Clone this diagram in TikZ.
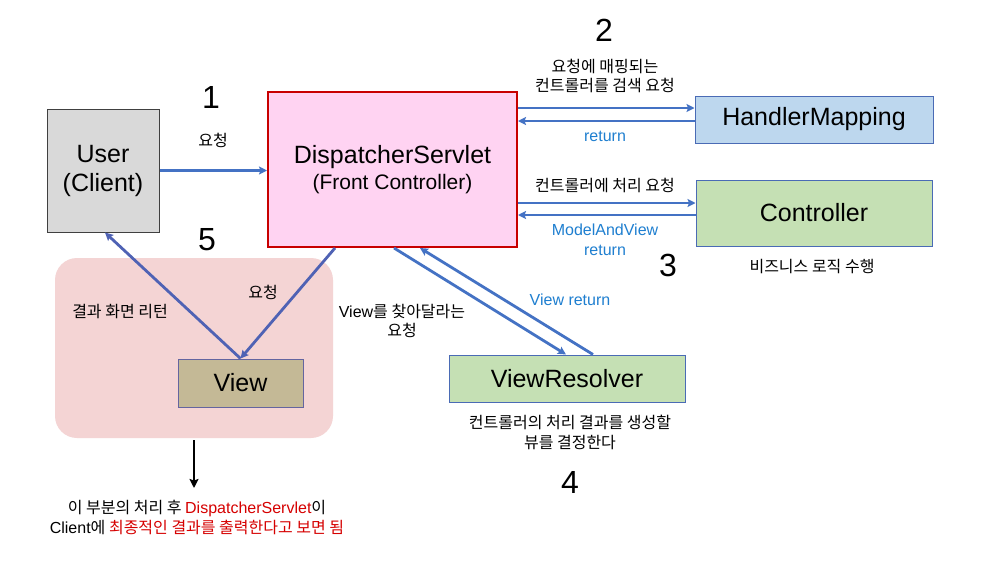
\documentclass[tikz,border=0pt]{standalone}
\usepackage{fontspec}
\setmainfont{Liberation Sans}
\newfontfamily\kr{Noto Sans CJK KR}
\usetikzlibrary{arrows.meta,calc}
\definecolor{arrblue}{HTML}{4472C4}
\definecolor{arrviol}{HTML}{4F62B4}
\definecolor{lblue}{HTML}{1F7FD0}
\definecolor{dred}{HTML}{D60000}
\definecolor{userfill}{HTML}{D9D9D9}
\definecolor{dsfill}{HTML}{FFD3F2}
\definecolor{dsborder}{HTML}{C80000}
\definecolor{hmfill}{HTML}{BDD7EE}
\definecolor{gfill}{HTML}{C5E0B4}
\definecolor{bborder}{HTML}{4A6BB5}
\definecolor{regfill}{HTML}{F4D4D4}
\definecolor{viewfill}{HTML}{C4B996}
\definecolor{viewborder}{HTML}{6465A0}
\newcommand{\K}[1]{{\kr #1}}
\newcommand{\bigF}{\fontsize{25}{29}\selectfont}
\newcommand{\midF}{\fontsize{21}{25}\selectfont}
\newcommand{\smlF}{\fontsize{16}{19.5}\selectfont}
\newcommand{\numF}{\fontsize{32}{36}\selectfont}
\tikzset{
  box/.style={draw, line width=1pt, inner sep=0pt, align=center},
  arr/.style={draw=arrblue, line width=2.8pt, -{Stealth[length=8pt,width=8pt,inset=1.5pt]}},
  varr/.style={draw=arrviol, line width=2.8pt, -{Stealth[length=8pt,width=8pt,inset=1.5pt]}},
  karr/.style={draw=black, line width=2.6pt, -{Stealth[length=9pt,width=9pt,inset=1.5pt]}},
  lbl/.style={inner sep=0pt, align=center, font=\smlF},
  blbl/.style={lbl, text=lblue},
  numlbl/.style={inner sep=0pt, font=\numF},
}
\begin{document}
\begin{tikzpicture}[x=1pt,y=-1pt]
\useasboundingbox[fill=white] (0,0) rectangle (982,568);
% region
\node[fill=regfill, rounded corners=22pt, minimum width=278pt, minimum height=180pt, inner sep=0pt] (region) at (194,348) {};
% boxes
\node[box, draw=black!75, fill=userfill, minimum width=112pt, minimum height=123pt, font=\bigF] (user) at (103,170.5) {User\\(Client)};
\node[box, draw=dsborder, line width=2pt, fill=dsfill, minimum width=249pt, minimum height=155pt] (ds) at (392.5,169.5) {};
\node[inner sep=0pt, font=\bigF] (dstitle) at (392.5,157) {DispatcherServlet};
\node[inner sep=0pt, font=\midF] (dssub) at (392.5,184) {(Front Controller)};
\node[box, draw=bborder, fill=hmfill, minimum width=238pt, minimum height=47pt, font=\bigF] (hm) at (814,119.5) {HandlerMapping};
\node[box, draw=bborder, fill=gfill, minimum width=236pt, minimum height=66pt, font=\bigF] (ctrl) at (814,213) {Controller};
\node[box, draw=viewborder, fill=viewfill, minimum width=125pt, minimum height=48pt, font=\bigF] (view) at (240.5,383) {View};
\node[box, draw=bborder, fill=gfill, minimum width=236pt, minimum height=47pt, font=\bigF] (vr) at (567,378.5) {ViewResolver};
% coordinates
\coordinate (hmIn) at ([yshift=11.5pt]hm.west);
\coordinate (hmOut) at ([yshift=-1.5pt]hm.west);
\coordinate (ctIn) at ([yshift=10pt]ctrl.west);
\coordinate (ctOut) at ([yshift=-2pt]ctrl.west);
% arrows
\draw[arr] (user.east) -- (ds.west |- user.east);
\draw[arr] (ds.east |- hmIn) -- (hmIn);
\draw[arr] (hmOut) -- (ds.east |- hmOut);
\draw[arr] (ds.east |- ctIn) -- (ctIn);
\draw[arr] (ctOut) -- (ds.east |- ctOut);
\draw[arr] ([xshift=1.5pt]ds.south) -- ([xshift=-1pt]vr.north);
\draw[arr] ([xshift=26pt]vr.north) -- ([xshift=27.5pt]ds.south);
\draw[varr] ([xshift=-57.5pt]ds.south) -- (view.north);
\draw[varr] (view.north) -- ([xshift=2pt]user.south);
% numbers
\node[numlbl] (n1) at (211,97) {1};
\node[numlbl] (n2) at (604,30) {2};
\node[numlbl] (n3) at (668,265) {3};
\node[numlbl] (n4) at (570,482) {4};
\node[numlbl] (n5) at (207,240) {5};
% labels
\node[lbl] (l1) at (213,140) {\K{요청}};
\node[lbl] (l2) at (605,76) {\K{요청에 매핑되는}\\\K{컨트롤러를 검색 요청}};
\node[blbl] (l2r) at (605,136) {return};
\node[lbl] (l3) at (605,185) {\K{컨트롤러에 처리 요청}};
\node[blbl] (l3r) at (605,240) {ModelAndView\\return};
\node[lbl] (l3b) at (812,267) {\K{비즈니스 로직 수행}};
\node[blbl] (l4r) at (570,300) {View return};
\node[lbl] (l4a) at (402,321) {View\K{를 찾아달라는}\\\K{요청}};
\node[lbl] (l4b) at (570,432.5) {\K{컨트롤러의 처리 결과를 생성할}\\\K{뷰를 결정한다}};
\node[lbl] (l5a) at (120,312) {\K{결과 화면 리턴}};
\node[lbl] (l5b) at (263,292) {\K{요청}};
% note
\node[lbl, anchor=north] (note) at (197,500) {\K{이 부분의 처리 후 }\textcolor{dred}{DispatcherServlet}\K{이}\\Client\K{에 }\textcolor{dred}{\K{최종적인 결과를 출력한다고 보면 됨}}};
\coordinate (noteTop) at ([yshift=12pt]region.south |- note.north);
\draw[karr] ([yshift=-2pt]region.south) -- (noteTop);
\end{tikzpicture}
\end{document}
